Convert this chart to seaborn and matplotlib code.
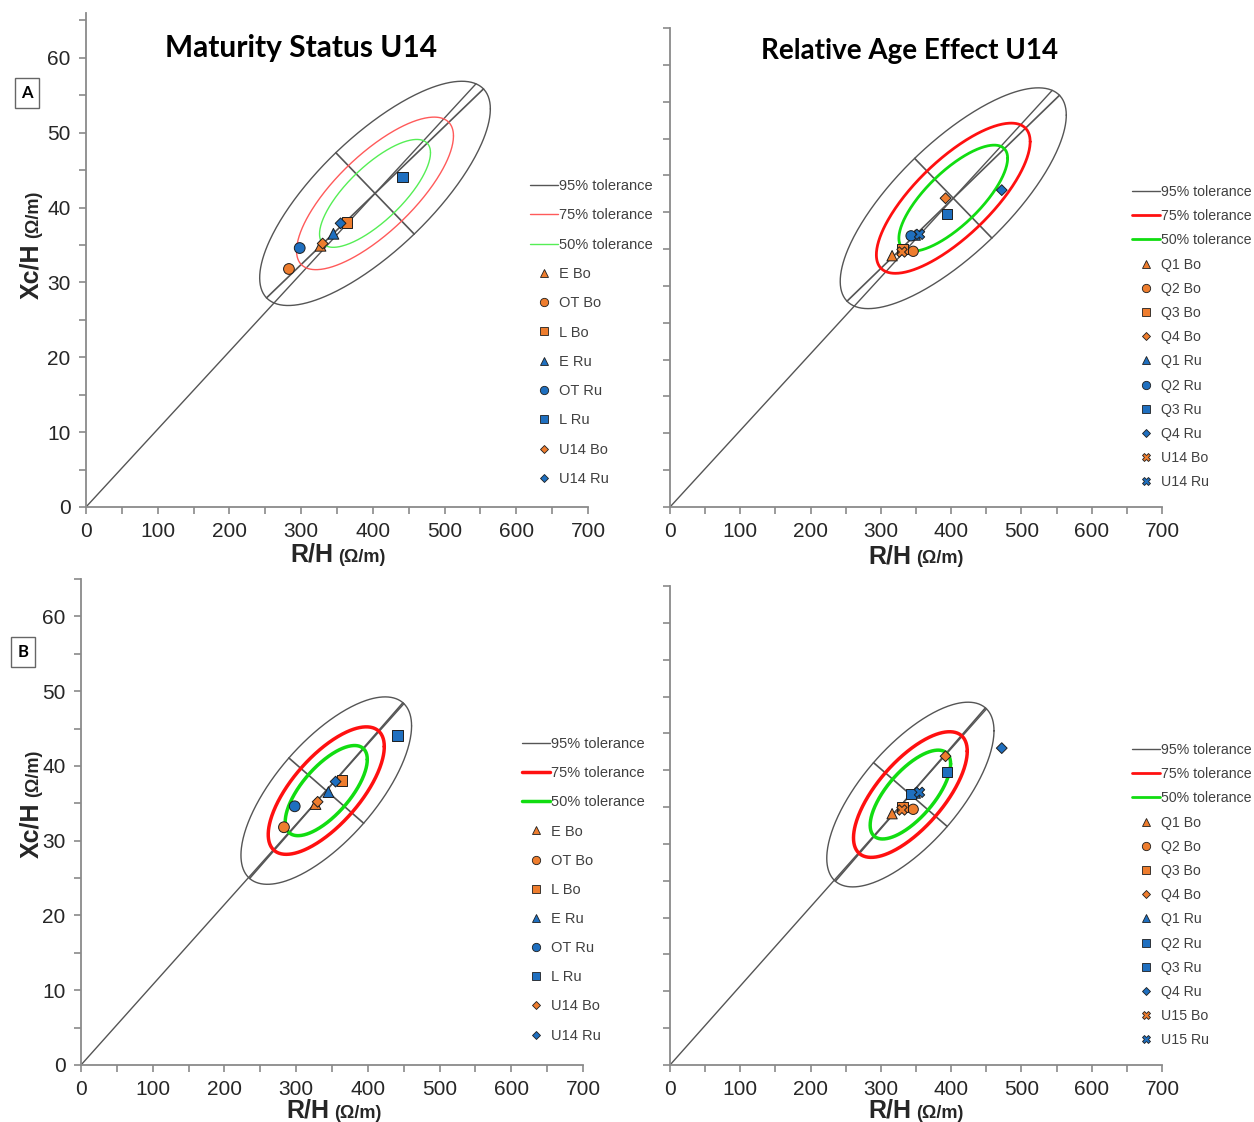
import numpy as np
import pandas as pd
import matplotlib
matplotlib.use("Agg")
import matplotlib.pyplot as plt
from matplotlib.lines import Line2D
import seaborn as sns

# ---------------- data ----------------
# Maturity status groups (R/H, Xc/H in ohm/m)
maturity_groups = ["E Bo", "OT Bo", "L Bo", "E Ru", "OT Ru", "L Ru", "U14 Bo", "U14 Ru"]
maturity_rh = [327, 283, 364, 345, 298, 441, 330, 355]
maturity_xch = [34.9, 31.8, 38.0, 36.5, 34.6, 44.1, 35.2, 37.9]

# Relative age (birth quartile) groups
age_groups_top = ["Q1 Bo", "Q2 Bo", "Q3 Bo", "Q4 Bo", "Q1 Ru", "Q2 Ru", "Q3 Ru", "Q4 Ru", "U14 Bo", "U14 Ru"]
age_groups_bottom = ["Q1 Bo", "Q2 Bo", "Q3 Bo", "Q4 Bo", "Q1 Ru", "Q2 Ru", "Q3 Ru", "Q4 Ru", "U15 Bo", "U15 Ru"]
age_rh = [316, 346, 331, 392, 349, 343, 394, 472, 330, 355]
age_xch = [34.1, 34.7, 35.0, 41.9, 36.9, 36.8, 39.8, 43.0, 34.6, 37.0]

# Reference populations for the tolerance ellipses
ref_a_mean = [403.0, 41.9]
ref_a_sd = [65.7, 6.12]
ref_a_r = 0.753
ref_b_mean = [342.0, 36.7]
ref_b_sd = [48.6, 5.12]
ref_b_r = 0.69

tolerance_levels = [0.95, 0.75, 0.50]
tolerance_labels = ["95% tolerance", "75% tolerance", "50% tolerance"]

x_ticks = list(range(0, 701, 100))
y_ticks = list(range(0, 61, 10))

# ---------------- style ----------------
sns.set_theme(style="white")
plt.rcParams["font.family"] = ["Liberation Sans", "DejaVu Sans"]

ORANGE = "#EE7D2E"
BLUE = "#1F6FBF"
EDGE = "#1e1e1e"
AXIS_GREY = "#8a8a8a"
LINE_GREY = "#555555"
TEXT = "#262626"

W, H = 1254, 1122
fig = plt.figure(figsize=(W / 100, H / 100), dpi=100)


def rect(x0, x1, ybot, ytop):
    return [x0 / W, 1 - ybot / H, (x1 - x0) / W, (ybot - ytop) / H]


def team_color(g):
    return ORANGE if g.endswith("Bo") else BLUE


def cov_matrix(sd, r):
    return np.array([[sd[0] ** 2, r * sd[0] * sd[1]], [r * sd[0] * sd[1], sd[1] ** 2]])


def draw_ellipses(ax, mean, sd, r, colors, widths):
    mean = np.asarray(mean)
    cov = cov_matrix(sd, r)
    L = np.linalg.cholesky(cov)
    t = np.linspace(0, 2 * np.pi, 400)
    circ = np.vstack([np.cos(t), np.sin(t)])
    for p, c, lw in zip(tolerance_levels, colors, widths):
        k = np.sqrt(-2 * np.log(1 - p))
        pts = mean[:, None] + k * (L @ circ)
        ax.plot(pts[0], pts[1], color=c, lw=lw, zorder=3)
    # principal axes of the 95% ellipse, as seen on the plot
    k95 = np.sqrt(-2 * np.log(0.05))
    s = np.abs(ax.transData.transform([1, 1]) - ax.transData.transform([0, 0]))
    D = np.diag(s)
    vals, vecs = np.linalg.eigh(D @ cov @ D)
    for v, e in zip(vals, vecs.T):
        half = k95 * np.sqrt(v) * e / s
        ax.plot([mean[0] - half[0], mean[0] + half[0]],
                [mean[1] - half[1], mean[1] + half[1]], color=LINE_GREY, lw=1.2, zorder=2)
    # line from the origin through the mean vector up to the 95% boundary
    m = mean @ np.linalg.solve(cov, mean)
    tt = 1 + k95 / np.sqrt(m)
    ax.plot([0, tt * mean[0]], [0, tt * mean[1]], color=LINE_GREY, lw=1.0, zorder=2)


def style_axes(ax, ytop, show_ylabels):
    ax.set_xlim(0, 700)
    ax.set_ylim(0, ytop)
    for sp in ["top", "right"]:
        ax.spines[sp].set_visible(False)
    for sp in ["left", "bottom"]:
        ax.spines[sp].set_color(AXIS_GREY)
        ax.spines[sp].set_linewidth(1.3)
    ax.set_xticks(x_ticks)
    ax.set_xticks(range(50, 701, 100), minor=True)
    ax.set_xticklabels([str(v) for v in x_ticks])
    ax.set_yticks(y_ticks)
    ax.set_yticks(range(5, 66, 10), minor=True)
    if show_ylabels:
        ax.set_yticklabels([str(v) for v in y_ticks])
    else:
        ax.set_yticklabels([])
    ax.tick_params(which="both", direction="out", length=5, width=1.2, color=AXIS_GREY,
                   labelsize=15, labelcolor=TEXT, pad=6, bottom=True, left=True)
    ax.set_xlabel("")
    ax.set_ylabel("")
    ax.patch.set_visible(False)


def scatter_groups(ax, groups, xs, ys, marker_map, size_map):
    df = pd.DataFrame({"group": groups, "rh": xs, "xch": ys})
    palette = {g: team_color(g) for g in groups}
    sns.scatterplot(data=df, x="rh", y="xch", hue="group", style="group", size="group",
                    palette=palette, markers=marker_map, sizes=size_map,
                    edgecolor=EDGE, linewidth=0.7, legend=False, ax=ax, zorder=5)
    ax.set_xlabel("")
    ax.set_ylabel("")


def make_legend(ax, groups, marker_map, ms_map, colors, widths, x_px, ytop_px, fontsize, spacing):
    handles = [Line2D([], [], color=c, lw=lw) for c, lw in zip(colors, widths)]
    labels = list(tolerance_labels)
    for g in groups:
        handles.append(Line2D([], [], ls="none", marker=marker_map[g], ms=ms_map[g],
                              mfc=team_color(g), mec=EDGE, mew=0.6))
        labels.append(g)
    fpx = fontsize * 100 / 72
    leg = ax.legend(handles, labels, loc="upper left",
                    bbox_to_anchor=(x_px / W, 1 - ytop_px / H), bbox_transform=fig.transFigure,
                    frameon=False, fontsize=fontsize, handlelength=28 / fpx, handletextpad=0.05,
                    labelspacing=spacing, borderpad=0, borderaxespad=0)
    for t in leg.get_texts():
        t.set_color("#404040")
    return leg


# marker shapes / sizes
mat_markers = {"E Bo": "^", "OT Bo": "o", "L Bo": "s", "E Ru": "^", "OT Ru": "o", "L Ru": "s",
               "U14 Bo": "D", "U14 Ru": "D"}
mat_sizes = {g: (30 if mat_markers[g] == "D" else 60) for g in maturity_groups}
mat_ms = {g: (4.5 if mat_markers[g] == "D" else 6) for g in maturity_groups}

age_shape = {"Q1": "^", "Q2": "o", "Q3": "s", "Q4": "D", "U14": "X", "U15": "X"}
age_markers_top = {g: age_shape[g.split()[0]] for g in age_groups_top}
age_markers_bottom = {g: age_shape[g.split()[0]] for g in age_groups_bottom}
age_markers_bottom["Q2 Ru"] = "s"


def sizes_for(mm):
    return {g: (30 if m == "D" else 55) for g, m in mm.items()}


def ms_for(mm):
    return {g: (4.5 if m == "D" else 6) for g, m in mm.items()}


thin_cols = [LINE_GREY, "#FF5A5A", "#55EE55"]
thick_cols = [LINE_GREY, "#FF1010", "#11DD11"]

# ---------------- panels ----------------
ax_tl = fig.add_axes(rect(86, 588, 507, 13))
ax_tr = fig.add_axes(rect(670, 1162, 507, 28))
ax_bl = fig.add_axes(rect(81, 583, 1065, 579))
ax_br = fig.add_axes(rect(670, 1162, 1065, 586))

style_axes(ax_tl, 66, True)
style_axes(ax_tr, 64.0, False)
style_axes(ax_bl, 65, True)
style_axes(ax_br, 64.0, False)

draw_ellipses(ax_tl, ref_a_mean, ref_a_sd, ref_a_r, thin_cols, [1.0, 1.0, 1.0])
draw_ellipses(ax_tr, ref_a_mean, ref_a_sd, ref_a_r, thick_cols, [1.0, 2.0, 2.0])
draw_ellipses(ax_bl, ref_b_mean, ref_b_sd, ref_b_r, thick_cols, [1.0, 2.5, 2.5])
draw_ellipses(ax_br, ref_b_mean, ref_b_sd, ref_b_r, thick_cols, [1.0, 2.5, 2.5])

scatter_groups(ax_tl, maturity_groups, maturity_rh, maturity_xch, mat_markers, mat_sizes)
scatter_groups(ax_bl, maturity_groups, maturity_rh, maturity_xch, mat_markers, mat_sizes)
scatter_groups(ax_tr, age_groups_top, age_rh, age_xch, age_markers_top, sizes_for(age_markers_top))
scatter_groups(ax_br, age_groups_bottom, age_rh, age_xch, age_markers_bottom, sizes_for(age_markers_bottom))

make_legend(ax_tl, maturity_groups, mat_markers, mat_ms, thin_cols, [1.0, 1.0, 1.0],
            530, 179, 10.5, 1.05)
make_legend(ax_bl, maturity_groups, mat_markers, mat_ms, thick_cols, [1.0, 2.5, 2.5],
            522, 737, 10.5, 1.04)
make_legend(ax_tr, age_groups_top, age_markers_top, ms_for(age_markers_top), thick_cols, [1.0, 2.0, 2.0],
            1132, 185, 10.2, 0.72)
make_legend(ax_br, age_groups_bottom, age_markers_bottom, ms_for(age_markers_bottom), thick_cols,
            [1.0, 2.0, 2.0], 1132, 743, 10.2, 0.72)

# ---------------- text ----------------
fig.text(301 / W, 1 - 57 / H, "Maturity Status U14", ha="center", va="baseline",
         fontsize=21.5, fontweight="bold", family=["Lato", "DejaVu Sans"], color="black")
fig.text(910 / W, 1 - 59 / H, "Relative Age Effect U14", ha="center", va="baseline",
         fontsize=20, fontweight="bold", family=["Lato", "DejaVu Sans"], color="black")

for lab, (cx, cy) in [("A", (27, 93)), ("B", (23, 652))]:
    fig.text(cx / W, 1 - cy / H, lab, ha="center", va="center", fontsize=12, fontweight="bold",
             family=["Lato", "DejaVu Sans"], color="black",
             bbox=dict(boxstyle="square,pad=0.4", fc="white", ec="#666666", lw=1.0))

renderer = fig.canvas.get_renderer()


def split_label(big, small, center_px, baseline_px, vertical):
    kw = dict(fontweight="bold", color=TEXT, rotation_mode="anchor", va="baseline", ha="left",
              rotation=90 if vertical else 0)
    t1 = fig.text(0, 0, big, fontsize=18, **kw)
    t2 = fig.text(0, 0, small, fontsize=13, **kw)
    e1 = t1.get_window_extent(renderer)
    e2 = t2.get_window_extent(renderer)
    gap = 5
    if vertical:
        l1, l2 = e1.height, e2.height
        start = (H - center_px) - (l1 + gap + l2) / 2
        t1.set_position((baseline_px / W, start / H))
        t2.set_position((baseline_px / W, (start + l1 + gap) / H))
    else:
        l1, l2 = e1.width, e2.width
        start = center_px - (l1 + gap + l2) / 2
        t1.set_position((start / W, 1 - baseline_px / H))
        t2.set_position(((start + l1 + gap) / W, 1 - baseline_px / H))


split_label("R/H", "(Ω/m)", 338, 562, False)
split_label("R/H", "(Ω/m)", 916, 563, False)
split_label("R/H", "(Ω/m)", 334, 1118, False)
split_label("R/H", "(Ω/m)", 916, 1118, False)
split_label("Xc/H", "(Ω/m)", 245, 38, True)
split_label("Xc/H", "(Ω/m)", 804, 38, True)

fig.savefig("out.png", dpi=100, facecolor="white")
